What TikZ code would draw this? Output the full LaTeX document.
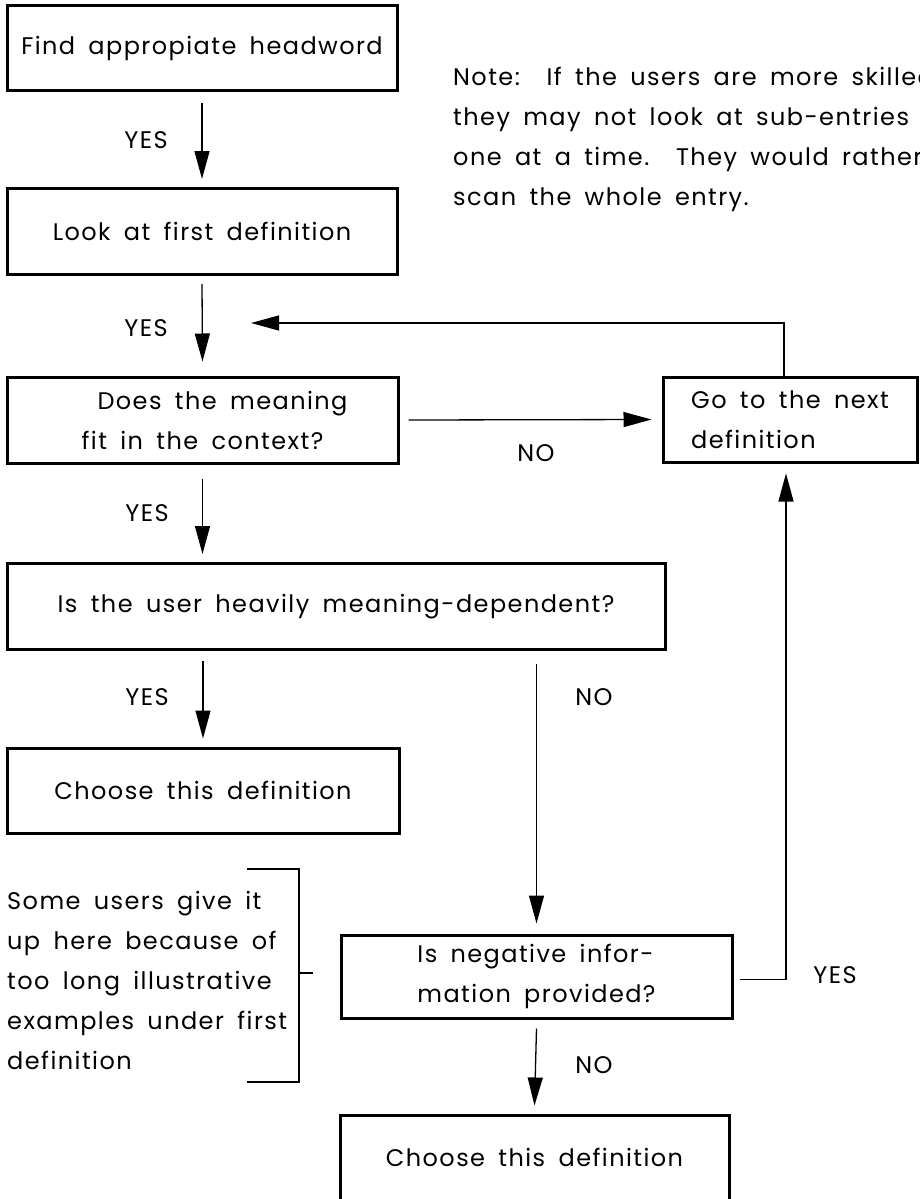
\documentclass[tikz,border=0pt]{standalone}
\usepackage{fontspec}
\setmainfont[LetterSpace=6,WordSpace=1.7]{Poppins}
\usetikzlibrary{arrows.meta}

\tikzset{
  box/.style={draw, line width=3pt, inner sep=0pt, minimum height=86pt},
  flow/.style={-{Triangle[length=28pt,width=15pt]}, line width=1.3pt},
  lbl/.style={inner sep=0pt},
}

\begin{document}
\begin{tikzpicture}[x=1pt,y=-1pt,font=\fontsize{24}{40}\selectfont]
  \useasboundingbox (0,0) rectangle (919,1199);
  \clip (0,0) rectangle (919,1199);

  % left column
  \node[box, minimum width=390pt, minimum height=84pt] (head) at (202,48) {Find appropiate headword};
  \node[box, minimum width=390pt] (first) at (202,231.5) {Look at first definition};
  \node[box, minimum width=391pt, align=center] (fit) at (202.5,420) {\hspace*{40pt}Does the meaning\\fit in the context?};
  \node[box, minimum width=254pt, minimum height=85pt, align=left] (next) at (790,419.5) {Go to the next\\definition};
  \node[box, minimum width=658pt] (dep) at (336,606.5) {Is the user heavily meaning-dependent?};
  \node[box, minimum width=392pt, minimum height=85pt] (choose1) at (203,790.5) {Choose this definition};

  % right column
  \node[box, minimum width=391pt, minimum height=83pt, align=left] (neg) at (536.5,976.5) {Is negative infor-\\mation provided?};
  \node[box, minimum width=389pt, minimum height=90pt, text height=14pt] (choose2) at (534.5,1160) {Choose this definition};

  % side notes
  \node[lbl, anchor=west, align=left] (note) at (453,139) {Note:\ \ If the users are more skilled\\they may not look at sub-entries\\one at a time.\ \ They would rather\\scan the whole entry.};
  \node[lbl, anchor=west, align=left] (gvup) at (7,980) {Some users give it\\up here because of\\too long illustrative\\examples under first\\definition};
  \draw[line width=1.3pt] (247,869) -| (299,1082) -- (247,1082);
  \draw[line width=1.3pt] (299,973) -- (313,973);

  % connectors
  \coordinate (back) at (251,323);
  \draw[flow] ([yshift=-11pt]head.south) -- ([yshift=8pt]first.north);
  \draw[flow] ([yshift=-8pt]first.south) -- ([yshift=14pt]fit.north);
  \draw[flow] ([yshift=-14pt]fit.south) -- ([yshift=8pt]fit.south |- dep.north);
  \draw[flow] ([yshift=-10pt]choose1.north |- dep.south) -- ([yshift=8pt]choose1.north);
  \draw[flow] ([yshift=-13pt]neg.north |- dep.south) -- ([yshift=10pt]neg.north);
  \draw[flow] ([yshift=-9pt]neg.south) -- ([yshift=8pt]choose2.north);
  \draw[flow] ([xshift=9pt]fit.east) -- ([xshift=-10pt]next.west);
  \draw[flow] ([xshift=-6pt]next.north) |- (back);
  \draw[flow] ([xshift=6pt,yshift=-3pt]neg.east) -| ([xshift=-4pt,yshift=-10pt]next.south);

  % branch labels
  \node[lbl] (y1) at (146,140) {YES};
  \node[lbl] (y2) at (146,328) {YES};
  \node[lbl] (y3) at (147,513) {YES};
  \node[lbl] (y4) at (147,697) {YES};
  \node[lbl] (n1) at (536,453) {NO};
  \node[lbl] (n2) at (594,697) {NO};
  \node[lbl] (y5) at (835,975) {YES};
  \node[lbl] (n3) at (594,1065) {NO};
\end{tikzpicture}
\end{document}
